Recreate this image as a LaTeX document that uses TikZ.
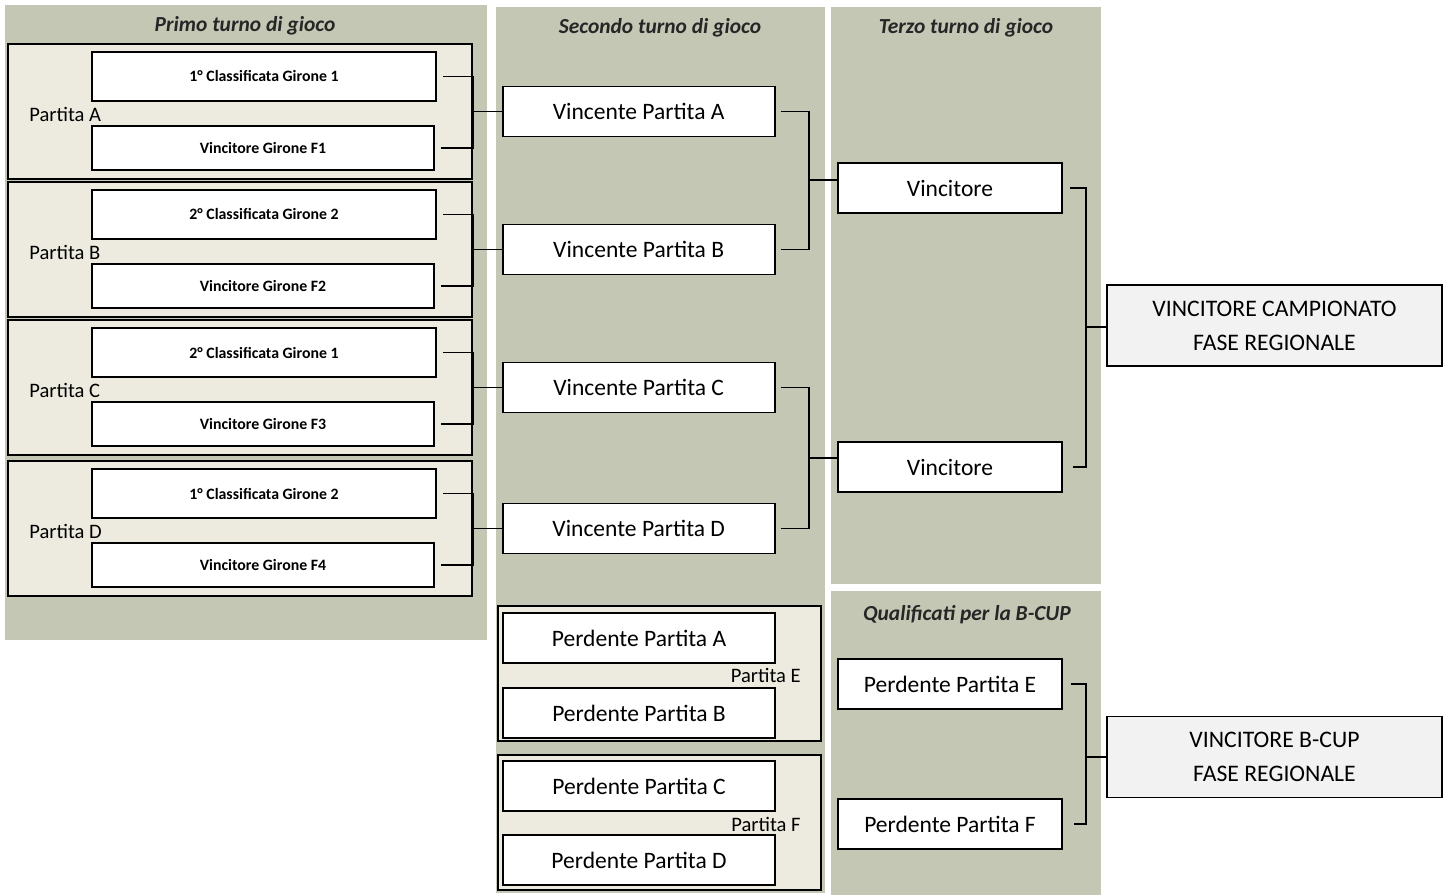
\documentclass[tikz,border=0pt]{standalone}
\usepackage{fontspec}
\setmainfont{Carlito}
\usetikzlibrary{positioning}
\definecolor{fondo}{RGB}{195,199,180}
\definecolor{partitafondo}{RGB}{237,235,224}
\definecolor{finalefondo}{RGB}{242,242,242}
\definecolor{grigiotitolo}{RGB}{38,38,38}
\tikzset{
  turno/.style={fill=fondo},
  titolo/.style={font=\bfseries\itshape\fontsize{12.2}{14}\selectfont, text=grigiotitolo},
  linea/.style={line width=1pt},
  partita/.style={draw, line width=1pt, fill=partitafondo, minimum width=9.28cm, minimum height=2.7cm},
  girone/.style={draw, line width=1pt, fill=white, inner sep=0pt, minimum width=6.88cm, minimum height=0.98cm, font=\bfseries\fontsize{9}{11}\selectfont},
  squadra/.style={draw, line width=1pt, fill=white, inner sep=0pt, minimum width=5.44cm, minimum height=1cm, font=\fontsize{13.4}{16}\selectfont},
  finale/.style={draw, line width=1pt, fill=finalefondo, align=center, minimum width=6.7cm, minimum height=1.62cm, font=\fontsize{13.5}{19.4}\selectfont},
  etichetta/.style={inner sep=0pt, font=\fontsize{11.7}{14}\selectfont}
}
% partita del primo turno: lettera, centro y, squadra sopra, squadra sotto
\newcommand{\partita}[4]{
  \node[partita] (p#1) at (240,#2) {};
  \node[girone] (p#1a) at (264,#2-35) {#3};
  \node[girone, minimum width=6.84cm, minimum height=0.88cm] (p#1b) at (263,#2+36.5) {#4};
  \node[etichetta, anchor=west] (l#1) at (29,#2+2.5) {Partita #1};
  \draw[linea] ([xshift=.12cm]p#1a.east) -| (p#1.east) |- ([xshift=.12cm]p#1b.east);
}

\begin{document}
\begin{tikzpicture}[x=0.02cm, y=-0.02cm]
\useasboundingbox (0,0) rectangle (1448,895);
% fondi dei turni
\fill[turno] (5,5) rectangle (487,640);
\fill[turno] (496,7) rectangle (825,893);
\fill[turno] (831,7) rectangle (1101,584);
\fill[turno] (831,591) rectangle (1101,895);
\node[titolo] (t1) at (245,26) {Primo turno di gioco};
\node[titolo] (t2) at (660,28) {Secondo turno di gioco};
\node[titolo] (t3) at (966,28) {Terzo turno di gioco};
\node[titolo] (t4) at (967,615) {Qualificati per la B-CUP};
% primo turno
\partita{A}{111.5}{1° Classificata Girone 1}{Vincitore Girone F1}
\partita{B}{249.5}{2° Classificata Girone 2}{Vincitore Girone F2}
\partita{C}{387.5}{2° Classificata Girone 1}{Vincitore Girone F3}
\partita{D}{528.5}{1° Classificata Girone 2}{Vincitore Girone F4}
% secondo turno
\node[squadra, right=0.58cm of pA] (vA) {Vincente Partita A};
\node[squadra, right=0.58cm of pB] (vB) {Vincente Partita B};
\node[squadra, right=0.58cm of pC] (vC) {Vincente Partita C};
\node[squadra, right=0.58cm of pD] (vD) {Vincente Partita D};
\foreach \i in {A,B,C,D}
  \draw[linea] (p\i.east) -- (v\i.west);
% terzo turno
\node[squadra, minimum width=4.48cm] (w1) at (950,188) {Vincitore};
\node[squadra, minimum width=4.48cm] (w2) at (950,467) {Vincitore};
\coordinate (jAB) at (809,180);
\coordinate (jCD) at (809,458);
\draw[linea] ([xshift=.1cm]vA.east) -| (jAB) |- ([xshift=.1cm]vB.east);
\draw[linea] (jAB) -- (jAB -| w1.west);
\draw[linea] ([xshift=.1cm]vC.east) -| (jCD) |- ([xshift=.1cm]vD.east);
\draw[linea] (jCD) -- (jCD -| w2.west);
% vincitore campionato
\node[finale] (campione) at (1274.5,325.5) {VINCITORE CAMPIONATO\\FASE REGIONALE};
\coordinate (jW) at (1086,327);
\draw[linea] ([xshift=.14cm]w1.east) -| (jW) |- ([xshift=.2cm]w2.east);
\draw[linea] (jW) -- (jW -| campione.west);
% perdenti del primo turno
\node[partita, minimum width=6.46cm] (pE) at (659.5,673.5) {};
\node[squadra] (perdA) at (639,638) {Perdente Partita A};
\node[squadra] (perdB) at (639,713) {Perdente Partita B};
\node[etichetta, anchor=east] (lE) at (801,675) {Partita E};
\node[partita, minimum width=6.46cm] (pF) at (659.5,822.5) {};
\node[squadra] (perdC) at (639,786) {Perdente Partita C};
\node[squadra] (perdD) at (639,860) {Perdente Partita D};
\node[etichetta, anchor=east] (lF) at (801,824) {Partita F};
% b-cup
\node[squadra, minimum width=4.48cm] (perdE) at (950,684) {Perdente Partita E};
\node[squadra, minimum width=4.48cm] (perdF) at (950,824) {Perdente Partita F};
\node[finale] (bcup) at (1274.5,757) {VINCITORE B-CUP\\FASE REGIONALE};
\coordinate (jEF) at (1086,757);
\draw[linea] ([xshift=.16cm]perdE.east) -| (jEF) |- ([xshift=.22cm]perdF.east);
\draw[linea] (jEF) -- (bcup.west);
\end{tikzpicture}
\end{document}
